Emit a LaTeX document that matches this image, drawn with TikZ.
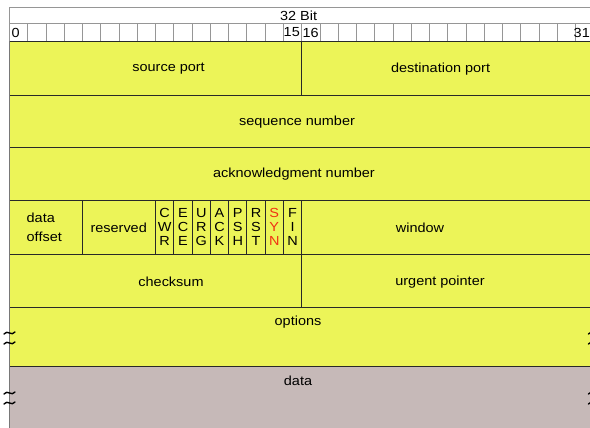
\documentclass[tikz,border=0pt]{standalone}
\usepackage{fontspec}
\setmainfont{Liberation Sans}
\usepackage{graphicx}
\definecolor{fieldyellow}{RGB}{236,244,88}
\definecolor{datafill}{RGB}{198,185,184}
\definecolor{synred}{RGB}{240,50,20}
\definecolor{gridgray}{RGB}{150,150,150}
\definecolor{rulecol}{RGB}{40,40,40}
% Arial-like lettering, slightly widened
\newcommand\widetxt[1]{\scalebox{1.1}[1]{#1}}

\begin{document}
\begin{tikzpicture}[x=1bp,y=-1bp,
  lbl/.style={font=\fontsize{13.2}{15}\selectfont, inner sep=0pt, text=black},
  grid/.style={draw=gridgray, line width=0.8bp},
  rule/.style={draw=rulecol, line width=0.9bp},
  brkline/.style={draw=black, line width=1.4bp, line cap=round}]
\useasboundingbox (0,0) rectangle (590,427);
\clip (0,0) rectangle (590,427);
\fill[white] (0,0) rectangle (590,427);

% field backgrounds
\fill[fieldyellow] (9.5,41) rectangle (600,366.7);
\fill[datafill] (9.5,366.7) rectangle (600,430);

% header: width caption and bit numbers
\draw[grid] (9.5,7) rectangle (593.9,41);
\draw[grid] (9.5,23) -- (593.9,23);
\foreach \i in {1,...,31}
  \draw[grid] ({9.5+\i*18.26},23) -- ({9.5+\i*18.26},41);

% word boundaries
\foreach \y in {41,95.7,147.3,200.7,254,307.3,366.7}
  \draw[rule] (9.5,\y) -- (593.9,\y);
\draw[draw=gridgray!80!black, line width=0.9bp] (9.5,41) -- (9.5,430);
\draw[draw=gridgray!80!black, line width=0.9bp] (593.9,41) -- (593.9,430);

% field dividers
\draw[rule] (301.7,41) -- (301.7,95.7);
\draw[rule] (301.7,254) -- (301.7,307.3);
\foreach \i in {4,8,9,...,16}
  \draw[rule] ({9.5+\i*18.26},200.7) -- ({9.5+\i*18.26},254);

% texts
\node[lbl] (title) at (298.6,15.3) {\widetxt{32 Bit}};
\node[lbl, anchor=west] (b0) at (11.5,32.5) {\widetxt{0}};
\node[lbl, anchor=east] (b15) at (300,32.5) {\widetxt{15}};
\node[lbl, anchor=west] (b16) at (302.5,32.5) {\widetxt{16}};
\node[lbl, anchor=east] (b31) at (590,32.5) {\widetxt{31}};

\node[lbl] (srcport) at (168.6,69) {\widetxt{source port}};
\node[lbl] (dstport) at (440.6,69) {\widetxt{destination port}};
\node[lbl] (seqnum) at (297,122) {\widetxt{sequence number}};
\node[lbl] (acknum) at (294,174) {\widetxt{acknowledgment number}};
\node[lbl, anchor=west] (doff1) at (26.5,218) {\widetxt{data}};
\node[lbl, anchor=west] (doff2) at (26.5,236.5) {\widetxt{offset}};
\node[lbl] (resv) at (118.7,227.3) {\widetxt{reserved}};
\foreach [count=\k from 0] \a/\b/\c/\col in
    {C/W/R/black, E/C/E/black, U/R/G/black, A/C/K/black,
     P/S/H/black, R/S/T/black, S/Y/N/synred, F/I/N/black} {
  \node[lbl, text=\col] (flag\k a) at ({9.5+(8.5+\k)*18.26},213) {\widetxt{\a}};
  \node[lbl, text=\col] (flag\k b) at ({9.5+(8.5+\k)*18.26},227) {\widetxt{\b}};
  \node[lbl, text=\col] (flag\k c) at ({9.5+(8.5+\k)*18.26},241) {\widetxt{\c}};
}
\node[lbl] (window) at (420,227.3) {\widetxt{window}};
\node[lbl] (checksum) at (171,282) {\widetxt{checksum}};
\node[lbl] (urgptr) at (440,282) {\widetxt{urgent pointer}};
\node[lbl] (options) at (298,322) {\widetxt{options}};
\node[lbl] (payload) at (298,381) {\widetxt{data}};

% break marks on the variable-length rows
\foreach \x in {9.5,593.9}
  \foreach \y in {333,343,393,403}
    \draw[brkline] ({\x-5.5},{\y+1}) .. controls ({\x-2},{\y-4}) and ({\x+2},{\y+4}) .. ({\x+5.5},{\y-1});
\end{tikzpicture}
\end{document}
